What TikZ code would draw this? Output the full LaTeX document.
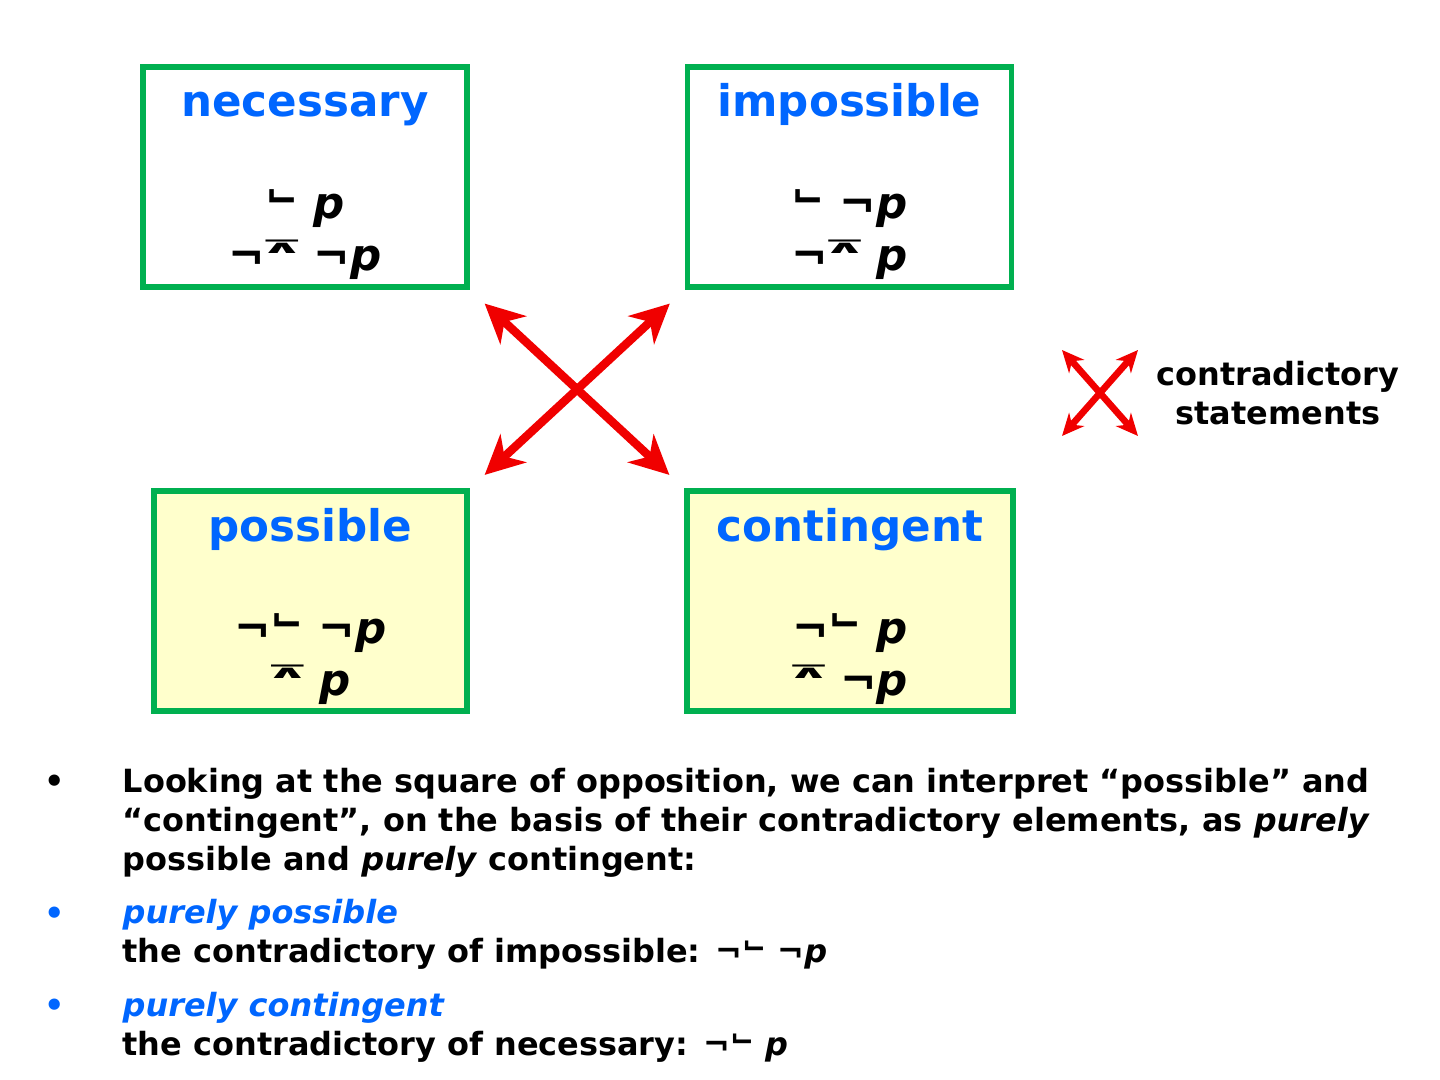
\documentclass[tikz,border=0pt]{standalone}
\usepackage{fontspec}
\usepackage{graphicx}
\setmainfont{DejaVu Sans}
\usetikzlibrary{arrows.meta, positioning, calc}
\definecolor{sqgreen}{RGB}{0, 176, 80}
\definecolor{sqblue}{RGB}{0, 102, 255}
\definecolor{sqyellow}{RGB}{255, 255, 204}
\definecolor{sqred}{RGB}{240, 0, 0}
\newcommand{\necop}{\raisebox{0.38em}{\scalebox{0.9}[1]{\rotatebox[origin=c]{180}{¬}}}}
\newcommand{\posop}{\kern-0.12em\raisebox{0.40em}{\resizebox{1.0em}{0.31em}{⊼}}\kern-0.12em}
\newcommand{\pv}{\textit{p}}

\begin{document}
\begin{tikzpicture}[
  sqbox/.style={draw=sqgreen, line width=1.7pt, minimum width=3.24cm, minimum height=2.2cm, inner sep=0pt},
  sqtitle/.style={anchor=base, inner sep=0pt, text=sqblue, font=\fontsize{12.4}{15}\selectfont\bfseries},
  sqform/.style={anchor=base, inner sep=0pt, font=\fontsize{12.4}{15}\selectfont\bfseries},
  body/.style={anchor=base west, align=left, inner sep=0pt, font=\fontsize{9.09}{11.1}\selectfont\bfseries},
  bulletdot/.style={anchor=base, inner sep=0pt, font=\fontsize{9.09}{11.1}\selectfont\bfseries},
  contra/.style={sqred, line width=2.4pt, {Stealth[length=0.39cm, width=0.38cm, inset=0.12cm]}-{Stealth[length=0.39cm, width=0.38cm, inset=0.12cm]}, shorten <=0.2cm, shorten >=0.2cm},
  contrakey/.style={sqred, line width=1.9pt, {Stealth[length=0.22cm, width=0.2cm, inset=0.07cm]}-{Stealth[length=0.22cm, width=0.2cm, inset=0.07cm]}}
]
  \useasboundingbox (0, 0) rectangle (14.4, 10.8);

  % square of opposition
  \node[sqbox, fill=white] (nec) at (3.05, 9.03) {};
  \node[sqbox, fill=white] (imp) at (8.495, 9.03) {};
  \node[sqbox, fill=sqyellow, minimum width=3.13cm] (pos) at (3.105, 4.785) {};
  \node[sqbox, fill=sqyellow, minimum width=3.26cm] (cont) at (8.50, 4.785) {};

  \node[sqtitle] (necT) at ([yshift=-0.53cm]nec.north) {necessary};
  \node[sqform] (necA) at ([yshift=-1.55cm]nec.north) {\necop{} \pv};
  \node[sqform] (necB) at ([yshift=-2.07cm]nec.north) {¬\posop{} ¬\pv};

  \node[sqtitle] (impT) at ([yshift=-0.53cm]imp.north) {impossible};
  \node[sqform] (impA) at ([yshift=-1.55cm]imp.north) {\necop{} ¬\pv};
  \node[sqform] (impB) at ([yshift=-2.07cm]imp.north) {¬\posop{} \pv};

  \node[sqtitle] (posT) at ([yshift=-0.53cm]pos.north) {possible};
  \node[sqform] (posA) at ([yshift=-1.55cm]pos.north) {¬\necop{} ¬\pv};
  \node[sqform] (posB) at ([yshift=-2.07cm]pos.north) {\posop{} \pv};

  \node[sqtitle] (contT) at ([yshift=-0.53cm]cont.north) {contingent};
  \node[sqform] (contA) at ([yshift=-1.55cm]cont.north) {¬\necop{} \pv};
  \node[sqform] (contB) at ([yshift=-2.07cm]cont.north) {\posop{} ¬\pv};

  \draw[contra] (nec.south east) -- (cont.north west);
  \draw[contra] (imp.south west) -- (pos.north east);

  % key
  \coordinate (keyNW) at (10.62, 7.30);
  \coordinate (keyNE) at (11.38, 7.30);
  \coordinate (keySW) at (10.62, 6.44);
  \coordinate (keySE) at (11.38, 6.44);
  \draw[contrakey] (keyNW) -- (keySE);
  \draw[contrakey] (keyNE) -- (keySW);
  \node[body, anchor=base, align=center] (keyText) at (12.78, 6.55) {contradictory\\statements};

  % notes (base = last line)
  \node[bulletdot] (b1) at (0.55, 2.87) {•};
  \node[body] (note1) at (1.22, 2.09) {Looking at the square of opposition, we can interpret “possible” and\\“contingent”, on the basis of their contradictory elements, as \textit{purely}\\possible and \textit{purely} contingent:};
  \node[bulletdot, text=sqblue] (b2) at (0.55, 1.55) {•};
  \node[body] (note2) at (1.22, 1.17) {\textcolor{sqblue}{\textit{purely possible}}\\the contradictory of impossible: ¬\necop{} ¬\pv};
  \node[bulletdot, text=sqblue] (b3) at (0.55, 0.63) {•};
  \node[body] (note3) at (1.22, 0.24) {\textcolor{sqblue}{\textit{purely contingent}}\\the contradictory of necessary: ¬\necop{} \pv};
\end{tikzpicture}
\end{document}
